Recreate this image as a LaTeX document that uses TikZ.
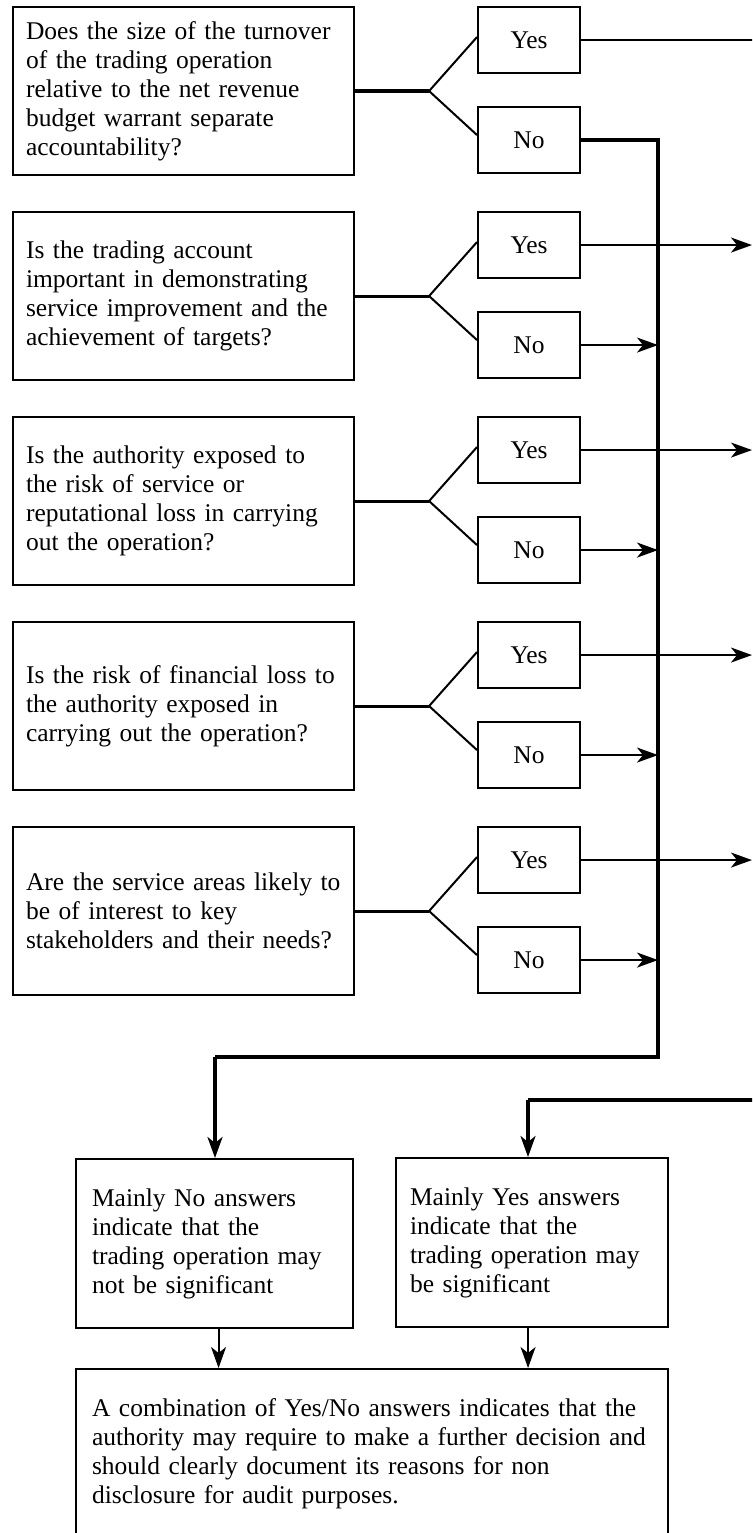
\documentclass[tikz,border=0pt]{standalone}
\usepackage{fontspec}
\setmainfont{Liberation Serif}
\usetikzlibrary{arrows.meta,calc}
\tikzset{
  txt/.style={font=\fontsize{25.5}{29}\selectfont},
  qbox/.style={txt, draw, line width=2.1pt, anchor=north west, minimum width=341pt, minimum height=168pt,
    text width=315pt, inner xsep=13pt, inner ysep=0pt, align=left},
  abox/.style={txt, draw, line width=2.1pt, anchor=north west, minimum width=102pt, minimum height=66pt, inner sep=0pt},
  rbox/.style={txt, draw, line width=2.1pt, anchor=north west, minimum height=169pt, inner ysep=0pt, align=left},
  thickline/.style={line width=3.1pt},
  thinline/.style={line width=2pt},
  tip/.style={-{Stealth[length=21pt,width=15pt,inset=6pt]}},
}
\begin{document}
\begin{tikzpicture}[x=1pt,y=-1pt]
\clip (0,0) rectangle (752,1533);
\fill[white] (0,0) rectangle (752,1533);

% question boxes
\node[qbox] (q1) at (12,6) {Does the size of the turnover\\of the trading operation\\relative to the net revenue\\budget warrant separate\\accountability?};
\node[qbox] (q2) at (12,211) {Is the trading account\\important in demonstrating\\service improvement and the\\achievement of targets?};
\node[qbox] (q3) at (12,416) {Is the authority exposed to\\the risk of service or\\reputational loss in carrying\\out the operation?};
\node[qbox] (q4) at (12,621) {Is the risk of financial loss to\\the authority exposed in\\carrying out the operation?};
\node[qbox] (q5) at (12,826) {Are the service areas likely to\\be of interest to key\\stakeholders and their needs?};

% answer boxes
\foreach \i/\y in {1/6,2/211,3/416,4/621,5/826}{
  \node[abox] (y\i) at (477,\y) {Yes};
  \node[abox] (n\i) at (477,\y+100) {No};
  \coordinate (b\i) at ($(q\i.east)+(74,0)$);
}

% result boxes
\node[rbox, minimum width=273pt, text width=245pt, inner xsep=16pt] (mno) at (75,1158) {Mainly No answers\\indicate that the\\trading operation may\\not be significant};
\node[rbox, minimum width=272pt, text width=244pt, inner xsep=14pt] (mys) at (395,1157) {Mainly Yes answers\\indicate that the\\trading operation may\\be significant};
\node[rbox, minimum width=592pt, minimum height=170pt, text width=560pt, inner xsep=16pt] (fin) at (75,1368) {A combination of Yes/No answers indicates that the\\authority may require to make a further decision and\\should clearly document its reasons for non\\disclosure for audit purposes.};

% helper coordinates
\coordinate (R) at (752,0);
\coordinate (Rout) at (770,0);
\coordinate (T) at (658,0);
\coordinate (c1) at (658,1057);
\coordinate (c2) at (215,1057);
\coordinate (c3) at (760,1100);
\coordinate (c4) at (528,1100);

% branches
\foreach \i in {1,...,5}{
  \draw[thickline] (q\i.east) -- (b\i);
  \draw[thinline] (b\i) -- ([yshift=3pt]y\i.west);
  \draw[thinline] (b\i) -- ([yshift=5pt]n\i.west);
}

% yes outputs
\draw[thinline] (y1.east) -- (y1.east -| Rout);
\foreach \i in {2,...,5}{
  \draw[thinline, tip] (y\i.east) -- (y\i.east -| R);
}

% no trunk
\draw[thickline, line join=miter] (n1.east) -- (n1.east -| T) -- (c1) -- (c2);
\draw[thickline, tip] (c2) -- (c2 |- mno.north);
\foreach \i in {2,...,5}{
  \draw[thinline, tip] (n\i.east) -- (n\i.east -| T);
}

% mainly yes feed
\draw[thickline, line join=miter] (c3) -- (c4);
\draw[thickline, tip] (c4) -- (c4 |- mys.north);

% to final box
\draw[thinline, tip] ([xshift=4pt]mno.south) -- ([xshift=4pt]mno.south |- fin.north);
\draw[thinline, tip] ([xshift=-4pt]mys.south) -- ([xshift=-4pt]mys.south |- fin.north);
\end{tikzpicture}
\end{document}
